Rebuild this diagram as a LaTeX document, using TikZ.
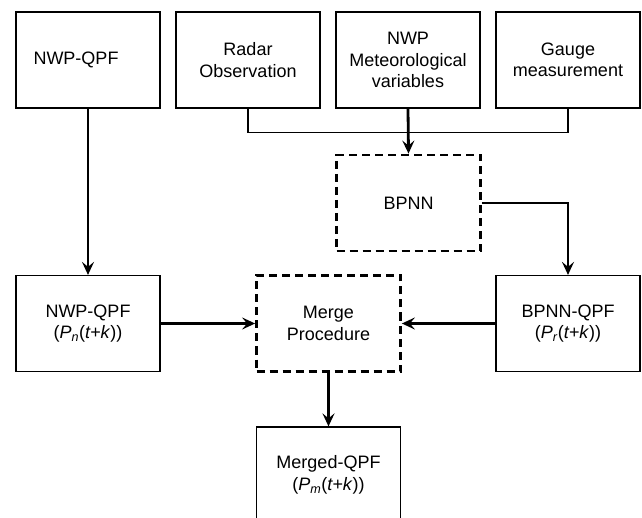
\documentclass[tikz,border=0pt]{standalone}
\usepackage{fontspec}
\setmainfont{Liberation Sans}
\usetikzlibrary{arrows.meta,positioning}

\begin{document}
\begin{tikzpicture}[x=1pt,y=-1pt,font=\fontsize{18}{21.6}\selectfont]
    \tikzstyle{box}=[draw,line width=1.2pt,minimum width=144pt,minimum height=96pt,align=center,inner sep=0pt]
    \tikzstyle{dbox}=[box,line width=2.8pt,dash pattern=on 8pt off 5pt]
    \tikzstyle{flow}=[-{Stealth[length=13pt,width=12pt,inset=5pt]},line width=2.8pt]
    \tikzstyle{feed}=[line width=1.2pt]

    \path[use as bounding box,clip] (0,0) rectangle (642,518);

    % Input data sources
    \node[box] (nwp) at (88,60) {NWP-QPF\hspace*{24pt}};
    \node[box] (radar) at (248,60) {Radar\\Observation};
    \node[box] (met) at (408,60) {NWP\\Meteorological\\variables};
    \node[box] (gauge) at (568,60) {Gauge\\measurement};

    % Network and forecasts
    \node[dbox] (bpnn) at (408.5,203) {BPNN};
    \node[box] (nwpqpf) at (88,323.5) {NWP-QPF\\(\textit{P}\textsubscript{\textit{n}}(\textit{t+k}))};
    \node[dbox] (merge) at (328.5,323.5) {Merge\\Procedure};
    \node[box] (bpqpf) at (568,323.5) {BPNN-QPF\\(\textit{P}\textsubscript{\textit{r}}(\textit{t+k}))};
    \node[box] (merged) at (328.5,475) {Merged-QPF\\(\textit{P}\textsubscript{\textit{m}}(\textit{t+k}))};

    % Connections
    \draw[feed] (radar.south) -- ++(0,24) -| (gauge.south);
    \draw[flow] (met.south) -- (bpnn.north);
    \draw[flow] (bpnn.east) -| (bpqpf.north);
    \draw[flow] (nwp.south) -- (nwpqpf.north);
    \draw[flow] (nwpqpf.east) -- (merge.west);
    \draw[flow] (bpqpf.west) -- (merge.east);
    \draw[flow] (merge.south) -- (merged.north);
\end{tikzpicture}
\end{document}
